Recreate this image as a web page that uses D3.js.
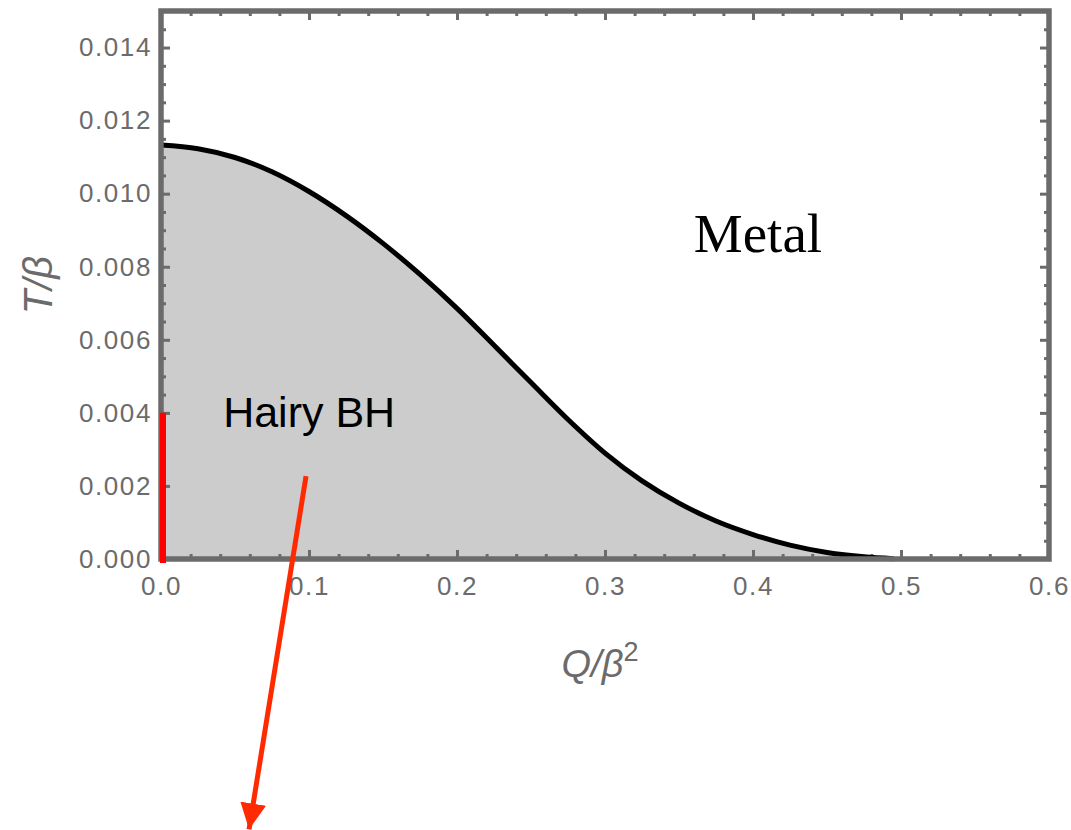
<!DOCTYPE html>
<html>
<head>
<meta charset="utf-8">
<script src="https://cdn.jsdelivr.net/npm/d3@7"></script>
<style>
  html, body { margin: 0; padding: 0; background: #fff; }
  svg { display: block; }
</style>
</head>
<body>
<svg id="chart" width="1071" height="830"></svg>
<script>
// Phase boundary T_c(Q) separating the hairy black hole and the metal phase
const qValues = [0, 0.025, 0.05, 0.075, 0.1, 0.125, 0.15, 0.175, 0.2, 0.225, 0.25, 0.275, 0.3, 0.325, 0.35, 0.375, 0.4, 0.425, 0.45, 0.475, 0.495];
const tValues = [0.01133, 0.01123, 0.01099, 0.01060, 0.01006, 0.00940, 0.00864, 0.00779, 0.00686, 0.00585, 0.00483, 0.00382, 0.00290, 0.00214, 0.00153, 0.00104, 0.00067, 0.00038, 0.00018, 0.00006, 0.00001];

// Axis ticks
const xMajorTicks = [0, 0.1, 0.2, 0.3, 0.4, 0.5, 0.6];
const xTickLabels = ["0.0", "0.1", "0.2", "0.3", "0.4", "0.5", "0.6"];
const yMajorTicks = [0, 0.002, 0.004, 0.006, 0.008, 0.010, 0.012, 0.014];
const yTickLabels = ["0.000", "0.002", "0.004", "0.006", "0.008", "0.010", "0.012", "0.014"];

// Red segment on the T axis (Q = 0) and the pointer arrow
const redSegmentT = [0, 0.004];
const arrowFrom = [0.098, 0.00227];
const arrowTo = [0.0595, -0.0074];

const xDomain = [0, 0.6];
const yDomain = [0, 0.015];

const svg = d3.select("#chart");
const x = d3.scaleLinear().domain(xDomain).range([161, 1049]);
const y = d3.scaleLinear().domain(yDomain).range([559, 11]);

const frameColor = "#6b6b6b";
const labelColor = "#6b6b6b";

const points = qValues.map((q, i) => [q, tValues[i]]);
const smooth = d3.curveCatmullRom.alpha(0.5);

// Shaded hairy BH region
const area = d3.area()
  .x(d => x(d[0]))
  .y0(y(0))
  .y1(d => y(d[1]))
  .curve(smooth);
svg.append("path")
  .datum(points)
  .attr("d", area)
  .attr("fill", "#cccccc");

// Minor tick positions
const xMinor = d3.range(0, 0.6001, 0.02).filter(v => Math.abs(v * 10 - Math.round(v * 10)) > 1e-6);
const yMinor = d3.range(0, 0.01501, 0.0005).filter(v => Math.abs(v * 500 - Math.round(v * 500)) > 1e-6);

function styleTicks(g, w) {
  g.select(".domain").remove();
  g.selectAll(".tick line").attr("stroke", frameColor).attr("stroke-width", w);
}

const tickFont = "Liberation Sans, Arial, sans-serif";

// Bottom (labelled) and top (mirrored) axes — ticks point inward
const bottomMajor = svg.append("g").attr("transform", `translate(0,${y(0)})`)
  .call(d3.axisBottom(x).tickValues(xMajorTicks).tickSizeInner(-9).tickSizeOuter(0)
    .tickPadding(18).tickFormat((d, i) => xTickLabels[i]));
styleTicks(bottomMajor, 3);
bottomMajor.selectAll(".tick text")
  .attr("fill", labelColor).attr("font-family", tickFont).attr("font-size", 26)
  .attr("letter-spacing", "1.6px")
  .attr("dy", "0.71em");

const bottomMinor = svg.append("g").attr("transform", `translate(0,${y(0)})`)
  .call(d3.axisBottom(x).tickValues(xMinor).tickSizeInner(-5).tickSizeOuter(0).tickFormat(""));
styleTicks(bottomMinor, 3);

const topMajor = svg.append("g").attr("transform", `translate(0,${y(yDomain[1])})`)
  .call(d3.axisTop(x).tickValues(xMajorTicks).tickSizeInner(-9).tickSizeOuter(0).tickFormat(""));
styleTicks(topMajor, 3);
const topMinor = svg.append("g").attr("transform", `translate(0,${y(yDomain[1])})`)
  .call(d3.axisTop(x).tickValues(xMinor).tickSizeInner(-5).tickSizeOuter(0).tickFormat(""));
styleTicks(topMinor, 3);

// Left (labelled) and right (mirrored) axes
const leftMajor = svg.append("g").attr("transform", `translate(${x(0)},0)`)
  .call(d3.axisLeft(y).tickValues(yMajorTicks).tickSizeInner(-9).tickSizeOuter(0)
    .tickPadding(9).tickFormat((d, i) => yTickLabels[i]));
styleTicks(leftMajor, 3);
leftMajor.selectAll(".tick text")
  .attr("fill", labelColor).attr("font-family", tickFont).attr("font-size", 26)
  .attr("letter-spacing", "1.6px");

const leftMinor = svg.append("g").attr("transform", `translate(${x(0)},0)`)
  .call(d3.axisLeft(y).tickValues(yMinor).tickSizeInner(-5).tickSizeOuter(0).tickFormat(""));
styleTicks(leftMinor, 3);

const rightMajor = svg.append("g").attr("transform", `translate(${x(xDomain[1])},0)`)
  .call(d3.axisRight(y).tickValues(yMajorTicks).tickSizeInner(-9).tickSizeOuter(0).tickFormat(""));
styleTicks(rightMajor, 3);
const rightMinor = svg.append("g").attr("transform", `translate(${x(xDomain[1])},0)`)
  .call(d3.axisRight(y).tickValues(yMinor).tickSizeInner(-5).tickSizeOuter(0).tickFormat(""));
styleTicks(rightMinor, 3);

// Phase boundary curve
const line = d3.line()
  .x(d => x(d[0]))
  .y(d => y(d[1]))
  .curve(smooth);
svg.append("path")
  .datum(points)
  .attr("d", line)
  .attr("fill", "none")
  .attr("stroke", "#000")
  .attr("stroke-width", 5);

// Plot frame
svg.append("rect")
  .attr("x", x(0)).attr("y", y(yDomain[1]))
  .attr("width", x(xDomain[1]) - x(0))
  .attr("height", y(0) - y(yDomain[1]))
  .attr("fill", "none")
  .attr("stroke", frameColor)
  .attr("stroke-width", 5.5);

// Red segment along Q = 0
svg.append("line")
  .attr("x1", x(0) + 2).attr("x2", x(0) + 2)
  .attr("y1", y(redSegmentT[0]) + 4).attr("y2", y(redSegmentT[1]))
  .attr("stroke", "#ff0000")
  .attr("stroke-width", 6);

// Region labels
svg.append("text")
  .attr("x", x(0.36)).attr("y", y(0.0084))
  .attr("font-family", "Liberation Serif, Times New Roman, serif")
  .attr("font-size", 55)
  .attr("fill", "#000")
  .text("Metal");

svg.append("text")
  .attr("x", x(0.042)).attr("y", y(0.0036))
  .attr("font-family", "Liberation Sans, Arial, sans-serif")
  .attr("font-size", 43)
  .attr("fill", "#000")
  .text("Hairy BH");

// Axis titles
const xTitle = svg.append("text")
  .attr("x", 600).attr("y", 677)
  .attr("text-anchor", "middle")
  .attr("font-family", "Liberation Sans, Arial, sans-serif")
  .attr("font-style", "italic")
  .attr("font-size", 38)
  .attr("fill", labelColor);
xTitle.append("tspan").text("Q/β");
xTitle.append("tspan").attr("font-style", "normal").attr("font-size", 27).attr("dy", -16).text("2");

svg.append("text")
  .attr("transform", "translate(52,285) rotate(-90)")
  .attr("text-anchor", "middle")
  .attr("font-family", "Liberation Sans, Arial, sans-serif")
  .attr("font-style", "italic")
  .attr("font-size", 40)
  .attr("fill", labelColor)
  .text("T/β");

// Pointer arrow
const defs = svg.append("defs");
defs.append("marker")
  .attr("id", "arrowhead")
  .attr("viewBox", "0 0 10 10")
  .attr("refX", 10).attr("refY", 5)
  .attr("markerUnits", "userSpaceOnUse")
  .attr("markerWidth", 26).attr("markerHeight", 26)
  .attr("orient", "auto")
  .append("path")
  .attr("d", "M0,0 L10,5 L0,10 Z")
  .attr("fill", "#ff2a00");

svg.append("line")
  .attr("x1", x(arrowFrom[0])).attr("y1", y(arrowFrom[1]))
  .attr("x2", x(arrowTo[0])).attr("y2", y(arrowTo[1]))
  .attr("stroke", "#ff2a00")
  .attr("stroke-width", 5)
  .attr("marker-end", "url(#arrowhead)");
</script>
</body>
</html>
